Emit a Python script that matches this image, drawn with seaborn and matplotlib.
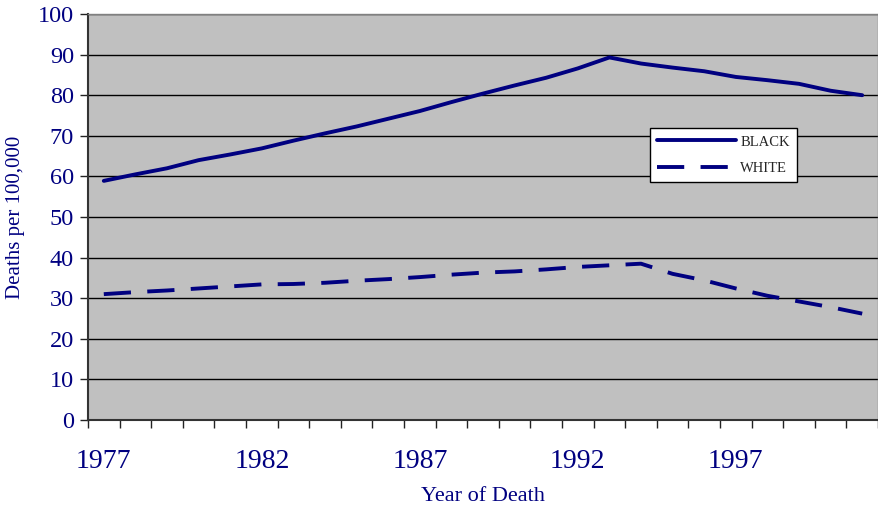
import numpy as np
import pandas as pd
import matplotlib
matplotlib.use("Agg")
import matplotlib.pyplot as plt
import seaborn as sns
from matplotlib.lines import Line2D

years = list(range(1977, 2002))
black = [58.9, 60.5, 62.0, 64.0, 65.4, 66.9, 68.8, 70.6, 72.3, 74.2, 76.1, 78.3, 80.4,
         82.4, 84.3, 86.6, 89.3, 87.8, 86.8, 85.9, 84.5, 83.7, 82.8, 81.1, 80.0]
white = [31.0, 31.5, 31.9, 32.4, 32.9, 33.4, 33.5, 33.8, 34.3, 34.7, 35.2, 35.8, 36.3,
         36.6, 37.1, 37.7, 38.1, 38.5, 36.0, 34.4, 32.4, 30.6, 29.2, 27.8, 26.2]
series_names = ["BLACK", "WHITE"]
xtick_labels = [1977, 1982, 1987, 1992, 1997]
yticks = list(range(0, 101, 10))

df = pd.DataFrame({
    "Year": years * 2,
    "Rate": black + white,
    "Race": [series_names[0]] * len(years) + [series_names[1]] * len(years),
})

sns.set_theme(style="white")
plt.rcParams["font.family"] = ["Liberation Serif", "DejaVu Serif"]

navy = "#000080"
fig = plt.figure(figsize=(8.79, 5.08), dpi=100)
ax = fig.add_axes([88 / 879, 88 / 508, 790 / 879, 406 / 508])
ax.set_facecolor("#C0C0C0")

lw = 2.8
dash = (0, (7.0, 4.2))
sns.lineplot(data=df[df.Race == "BLACK"], x="Year", y="Rate", ax=ax, color=navy,
             lw=lw, legend=False)
sns.lineplot(data=df[df.Race == "WHITE"], x="Year", y="Rate", ax=ax, color=navy,
             lw=lw, legend=False, linestyle=dash)

ax.set_xlim(years[0] - 0.5, years[-1] + 0.5)
ax.set_ylim(0, 100)
ax.set_yticks(yticks)
ax.set_yticklabels([str(v) for v in yticks], fontsize=17.5, color=navy)
ax.yaxis.grid(True, color="black", lw=1.0)
ax.set_axisbelow(True)

ax.set_xticks(xtick_labels)
ax.set_xticklabels([str(v) for v in xtick_labels], fontsize=20, color=navy)
ax.set_xticks(np.arange(years[0] - 0.5, years[-1] + 1.0, 1.0), minor=True)
ax.tick_params(axis="x", which="major", length=0, pad=21)
ax.tick_params(axis="x", which="minor", length=6, width=1, color="#222222",
               direction="out", bottom=True)
ax.tick_params(axis="y", length=6, width=1, color="#222222", direction="out",
               left=True, pad=4)

for side in ["left", "bottom"]:
    ax.spines[side].set_color("#333333")
    ax.spines[side].set_linewidth(1.5)
for side in ["top", "right"]:
    ax.spines[side].set_color("#808080")
    ax.spines[side].set_linewidth(1.0)

ax.set_xlabel("Year of Death", fontsize=16, color=navy, labelpad=9)
ax.set_ylabel("Deaths per 100,000", fontsize=15, color=navy, labelpad=9)

handles = [Line2D([], [], color=navy, lw=lw),
           Line2D([], [], color=navy, lw=lw, linestyle=dash)]
leg = ax.legend(handles, series_names, loc="upper left",
                bbox_to_anchor=((650 - 88) / 790, (420 - 128) / 406),
                frameon=True, fancybox=False, edgecolor="black",
                framealpha=1, facecolor="white", fontsize=10.5,
                handlelength=5.4, handletextpad=0.3, borderpad=0.5,
                labelspacing=0.9, borderaxespad=0)
leg.get_frame().set_linewidth(1.0)

fig.savefig("out.png", dpi=100)
